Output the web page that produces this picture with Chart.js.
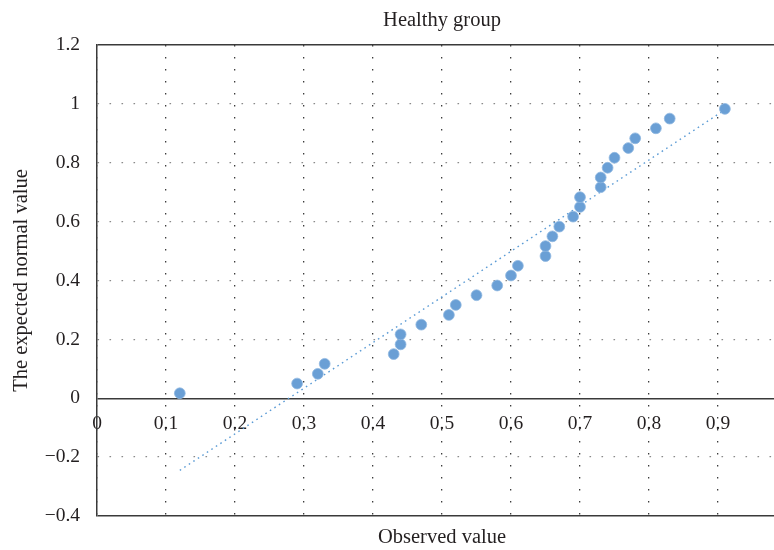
<!DOCTYPE html>
<html>
<head>
<meta charset="utf-8">
<script src="https://cdn.jsdelivr.net/npm/chart.js@4"></script>
<style>
  html, body { margin: 0; padding: 0; background: #fff; overflow: hidden; }
  canvas { display: block; }
</style>
</head>
<body>
<canvas id="qqChart" width="801" height="550"></canvas>
<script>
var observed = [0.12, 0.29, 0.32, 0.33, 0.43, 0.44, 0.44, 0.47, 0.51, 0.52,
                0.55, 0.58, 0.60, 0.61, 0.65, 0.65, 0.66, 0.67, 0.69, 0.70,
                0.70, 0.73, 0.73, 0.74, 0.75, 0.77, 0.78, 0.81, 0.83, 0.91];
var expected = [0.017, 0.050, 0.083, 0.117, 0.150, 0.183, 0.217, 0.250, 0.283, 0.317,
                0.350, 0.383, 0.417, 0.450, 0.483, 0.517, 0.550, 0.583, 0.617, 0.650,
                0.683, 0.717, 0.750, 0.783, 0.817, 0.850, 0.883, 0.917, 0.950, 0.983];
// dotted trend line end points
var trendX = [0.12, 0.91];
var trendY = [-0.245, 0.98];

var yTicks = [-0.4, -0.2, 0, 0.2, 0.4, 0.6, 0.8, 1, 1.2];

var FONT = "'Liberation Serif', 'DejaVu Serif', serif";
var TEXT = '#231f20';

var points = observed.map(function (x, i) { return { x: x, y: expected[i] }; });
var trend = trendX.map(function (x, i) { return { x: x, y: trendY[i] }; });

function isEdge(v) {
    return Math.abs(v) < 1e-9 || Math.abs(v - 1.2) < 1e-9 || Math.abs(v + 0.4) < 1e-9;
}

var ctx = document.getElementById('qqChart').getContext('2d');
var chart = new Chart(ctx, {
    type: 'scatter',
    data: {
        datasets: [{
            label: 'Healthy group',
            data: points,
            pointRadius: 5.4,
            pointBackgroundColor: '#6a9fd5',
            pointBorderColor: '#8fb7e1',
            pointBorderWidth: 0.8
        }, {
            label: 'trend',
            data: trend,
            showLine: true,
            pointRadius: 0,
            borderColor: '#5b9bd5',
            borderWidth: 1.4,
            borderDash: [1.6, 3.8]
        }]
    },
    options: {
        responsive: false,
        animation: false,
        devicePixelRatio: 1,
        layout: { padding: { top: 0, right: 4, bottom: 0, left: 0 } },
        plugins: {
            legend: { display: false },
            tooltip: { enabled: false },
            title: {
                display: true,
                text: 'Healthy group',
                fullSize: false,
                color: TEXT,
                font: { family: FONT, size: 20.5, weight: 'normal' },
                padding: { top: 8, bottom: 12.4 }
            }
        },
        scales: {
            x: {
                type: 'linear',
                position: 'bottom',
                min: 0,
                max: 1,
                ticks: { display: false, stepSize: 0.1 },
                grid: {
                    color: '#3c3c3c',
                    lineWidth: 1.3,
                    drawTicks: false
                },
                border: { display: false, dash: [1.6, 10.4] },
                title: {
                    display: true,
                    text: 'Observed value',
                    color: TEXT,
                    font: { family: FONT, size: 20.5 },
                    padding: { top: 0, bottom: 0 }
                },
                afterFit: function (scale) { scale.height = 34; }
            },
            x2: {
                type: 'linear',
                position: { y: 0 },
                min: 0,
                max: 1,
                grid: { display: false, drawTicks: false },
                border: { display: false },
                ticks: {
                    stepSize: 0.1,
                    padding: 14,
                    color: TEXT,
                    font: { family: FONT, size: 19.5 },
                    callback: function (v) {
                        if (v > 0.95) return '';
                        return Math.round(v * 10) / 10;
                    }
                }
            },
            y: {
                type: 'linear',
                position: 'left',
                min: -0.4,
                max: 1.2,
                afterBuildTicks: function (scale) {
                    scale.ticks = yTicks.map(function (v) { return { value: v }; });
                },
                ticks: {
                    padding: 17,
                    color: TEXT,
                    font: { family: FONT, size: 19.5 },
                    callback: function (v) {
                        var s = String(Math.round(v * 10) / 10);
                        return s.replace('-', '\u2212');
                    }
                },
                grid: {
                    drawTicks: false,
                    color: function (c) {
                        return c.tick && isEdge(c.tick.value) ? '#3a3a3a' : '#8a8a8a';
                    },
                    lineWidth: function (c) {
                        return c.tick && isEdge(c.tick.value) ? 1.5 : 1.3;
                    }
                },
                border: {
                    display: true,
                    color: '#3a3a3a',
                    width: 1.5,
                    dash: function (c) {
                        if (c.tick && isEdge(c.tick.value)) return [];
                        return c.tick ? [1.6, 10.4] : [];
                    }
                },
                title: {
                    display: true,
                    text: 'The expected normal value',
                    color: TEXT,
                    font: { family: FONT, size: 20.5 },
                    padding: { top: 9, bottom: 0 }
                },
                afterFit: function (scale) { scale.width = 97; }
            }
        }
    }
});
</script>
</body>
</html>
